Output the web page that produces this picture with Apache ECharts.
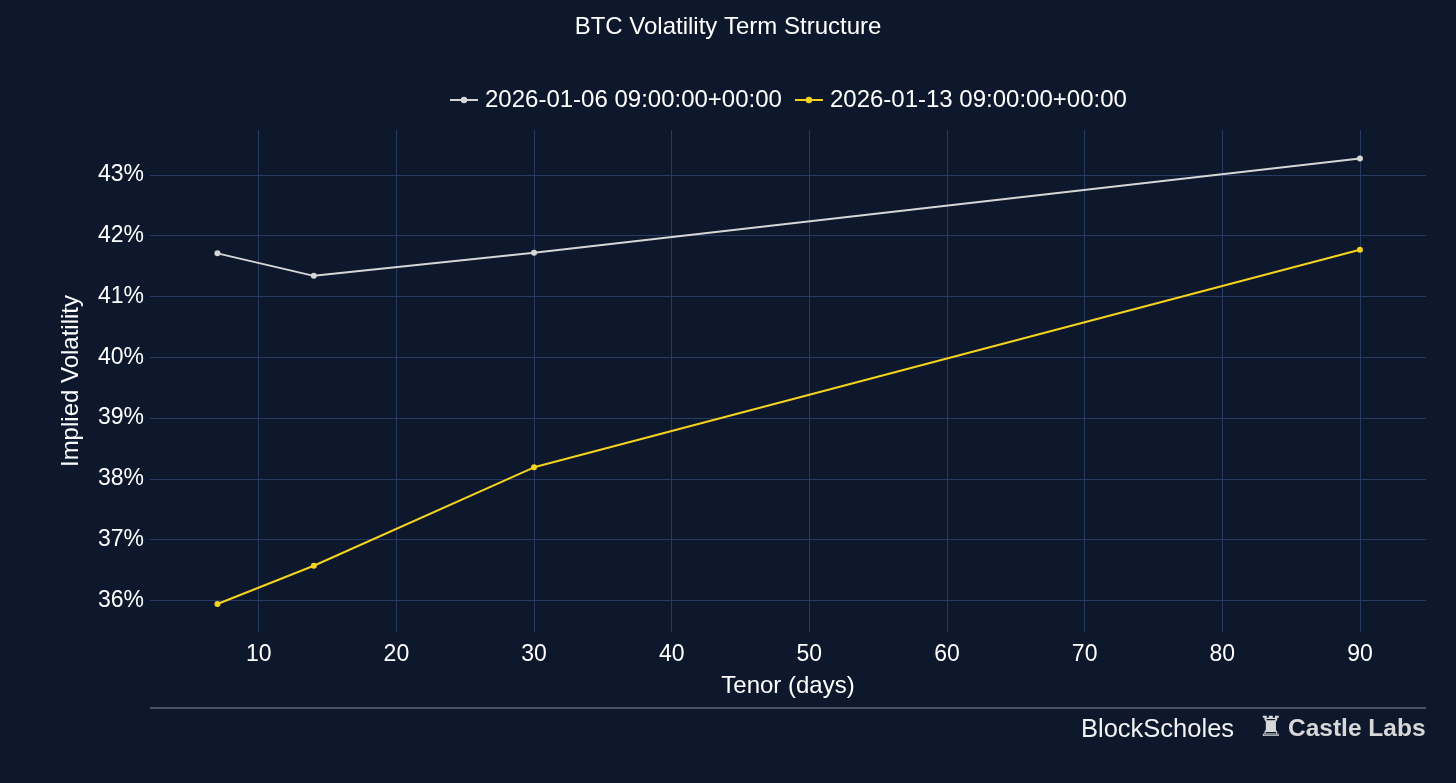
<!DOCTYPE html>
<html>
<head>
<meta charset="utf-8">
<script src="https://cdn.jsdelivr.net/npm/echarts@6/dist/echarts.min.js"></script>
<style>
  html, body { margin: 0; padding: 0; background: #0e182c; }
  #chart { width: 1456px; height: 783px; }
</style>
</head>
<body>
<div id="chart"></div>
<script>
// tenor in days
var tenors = [7, 14, 30, 90];
// implied vol, %
var vol0106 = [41.71, 41.34, 41.72, 43.27];
var vol0113 = [35.94, 36.57, 38.19, 41.77];
var seriesNames = ['2026-01-06 09:00:00+00:00', '2026-01-13 09:00:00+00:00'];

function pairs(xs, ys) {
    var out = [];
    for (var i = 0; i < xs.length; i++) out.push([xs[i], ys[i]]);
    return out;
}

var font = 'Liberation Sans, Arial, sans-serif';
var gridColor = '#273b62';

var myChart = echarts.init(document.getElementById('chart'));
var option = {
    backgroundColor: '#0e182c',
    textStyle: { fontFamily: font },
    title: {
        text: 'BTC Volatility Term Structure',
        left: 'center',
        top: 10,
        textStyle: { color: '#ffffff', fontSize: 24, fontWeight: 'normal', fontFamily: font }
    },
    // centred on the plot area, not the page
    legend: {
        top: 83,
        left: 444,
        itemWidth: 28,
        itemHeight: 8,
        itemGap: 12,
        textStyle: { color: '#ffffff', fontSize: 24, fontFamily: font, padding: [0, 0, 0, 2] },
        data: seriesNames
    },
    grid: { left: 150, right: 30, top: 130, bottom: 151, containLabel: false },
    xAxis: {
        type: 'value',
        min: 2.1,
        max: 94.8,
        splitNumber: 9,
        name: 'Tenor (days)',
        nameLocation: 'middle',
        nameGap: 42,
        nameTextStyle: { color: '#ffffff', fontSize: 24, fontFamily: font },
        axisLine: { show: false },
        axisTick: { show: false },
        axisLabel: {
            color: '#ffffff', fontSize: 23, margin: 11,
            showMinLabel: false, showMaxLabel: false
        },
        splitLine: {
            show: true, showMinLine: false, showMaxLine: false,
            lineStyle: { color: gridColor, width: 1 }
        }
    },
    yAxis: {
        type: 'value',
        min: 35.48,
        max: 43.74,
        splitNumber: 8,
        name: 'Implied Volatility',
        nameLocation: 'middle',
        nameGap: 67,
        nameTextStyle: { color: '#ffffff', fontSize: 24, fontFamily: font },
        axisLine: { show: false },
        axisTick: { show: false },
        axisLabel: {
            color: '#ffffff', fontSize: 23, margin: 6,
            showMinLabel: false, showMaxLabel: false,
            formatter: function (v) { return v + '%'; }
        },
        splitLine: {
            show: true, showMinLine: false, showMaxLine: false,
            lineStyle: { color: gridColor, width: 1 }
        }
    },
    graphic: [
        {
            type: 'line',
            shape: { x1: 150, y1: 708, x2: 1426, y2: 708 },
            style: { stroke: '#7f8aa0', lineWidth: 1 }
        },
        {
            type: 'text',
            left: 1081, top: 717,
            style: { text: 'BlockScholes', fill: '#f2f2f2', font: '25.5px ' + font }
        },
        {
            type: 'text',
            left: 1258, top: 715,
            style: { text: '\u265C', fill: '#d8d8d8', font: '28px DejaVu Sans' }
        },
        {
            type: 'text',
            left: 1288, top: 717,
            style: { text: 'Castle Labs', fill: '#d8d8d8', font: 'bold 24.5px ' + font }
        }
    ],
    series: [
        {
            name: seriesNames[0],
            type: 'line',
            symbol: 'circle',
            symbolSize: 6,
            lineStyle: { color: '#d6d6d6', width: 2 },
            itemStyle: { color: '#d6d6d6' },
            data: pairs(tenors, vol0106)
        },
        {
            name: seriesNames[1],
            type: 'line',
            symbol: 'circle',
            symbolSize: 6,
            lineStyle: { color: '#f5d31e', width: 2 },
            itemStyle: { color: '#f5d31e' },
            data: pairs(tenors, vol0113)
        }
    ]
};
myChart.setOption(option);
</script>
</body>
</html>
